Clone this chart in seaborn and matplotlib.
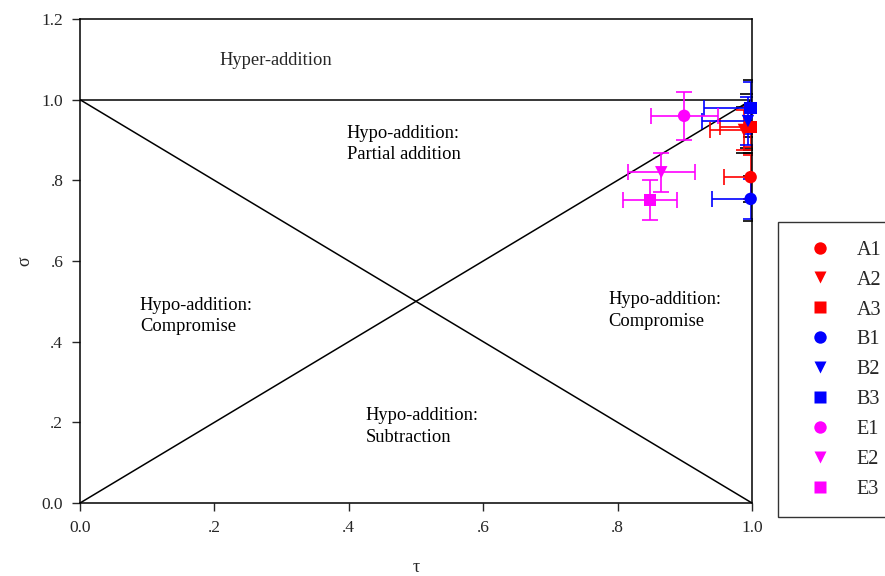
import matplotlib
matplotlib.use("Agg")
import matplotlib.pyplot as plt
import seaborn as sns
import pandas as pd

sns.set_style("ticks")
plt.rcParams["font.family"] = ["Liberation Serif", "DejaVu Serif"]

# Treatment groups and their tau / sigma estimates with error ranges
labels = ["A1", "A2", "A3", "B1", "B2", "B3", "E1", "E2", "E3"]
tau = [0.998, 0.988, 0.998, 0.998, 0.994, 0.998, 0.899, 0.865, 0.848]
sigma = [0.808, 0.925, 0.932, 0.754, 0.947, 0.979, 0.960, 0.820, 0.751]
tau_err = [0.040, 0.050, 0.045, 0.058, 0.068, 0.070, 0.050, 0.050, 0.040]
sigma_err = [0.055, 0.050, 0.050, 0.050, 0.060, 0.065, 0.060, 0.048, 0.050]

colors = ["#ff0000"] * 3 + ["#0000ff"] * 3 + ["#ff00ff"] * 3
markers = ["o", "v", "s"] * 3

x_ticks = [0.0, 0.2, 0.4, 0.6, 0.8, 1.0]
x_ticklabels = ["0.0", ".2", ".4", ".6", ".8", "1.0"]
y_ticks = [0.0, 0.2, 0.4, 0.6, 0.8, 1.0, 1.2]
y_ticklabels = ["0.0", ".2", ".4", ".6", ".8", "1.0", "1.2"]

df = pd.DataFrame({"label": labels, "tau": tau, "sigma": sigma,
                   "tau_err": tau_err, "sigma_err": sigma_err})

fig = plt.figure(figsize=(8.85, 5.76), dpi=100)
ax = fig.add_axes([0.0904, 0.1267, 0.7593, 0.8403])

# Region boundaries
ax.plot([0, 1], [1, 1], color="black", lw=1.1, zorder=1)
ax.plot([0, 1], [1, 0], color="black", lw=1.1, zorder=1)
ax.plot([0, 1], [0, 1], color="black", lw=1.1, zorder=1)

# Region labels
txt = dict(fontsize=13.3, color="black", va="top", ha="left", linespacing=1.35)
ax.text(0.292, 1.098, "Hyper-addition", fontsize=13.3, ha="center", va="center")
ax.text(0.397, 0.938, "Hypo-addition:\nPartial addition", **txt)
ax.text(0.089, 0.512, "Hypo-addition:\nCompromise", **txt)
ax.text(0.786, 0.525, "Hypo-addition:\nCompromise", **txt)
ax.text(0.425, 0.237, "Hypo-addition:\nSubtraction", **txt)

# Error bars; the A and B groups also carry black end caps on sigma
for i, row in df.iterrows():
    if colors[i] != "#ff00ff":
        ax.errorbar(row["tau"], row["sigma"], yerr=row["sigma_err"] + 0.006,
                    fmt="none", ecolor="black", elinewidth=0.0, capsize=6,
                    capthick=1.2, zorder=1.5)
    ax.errorbar(row["tau"], row["sigma"], xerr=row["tau_err"], yerr=row["sigma_err"],
                fmt="none", ecolor=colors[i], elinewidth=1.2, capsize=6,
                capthick=1.2, zorder=2)

palette = dict(zip(labels, colors))
marker_map = dict(zip(labels, markers))
sns.scatterplot(data=df, x="tau", y="sigma", hue="label", style="label",
                palette=palette, markers=marker_map, s=80, edgecolor="none",
                ax=ax, zorder=3, clip_on=False, legend=True)

ax.set_xlim(0, 1.0)
ax.set_ylim(0, 1.2)
ax.set_xticks(x_ticks)
ax.set_xticklabels(x_ticklabels)
ax.set_yticks(y_ticks)
ax.set_yticklabels(y_ticklabels)
ax.tick_params(direction="out", length=6, width=1, labelsize=12.5, pad=6)
for s in ax.spines.values():
    s.set_linewidth(1.1)
    s.set_color("black")
ax.set_xlabel("τ", fontsize=13, labelpad=17)
ax.set_ylabel("σ", fontsize=13, labelpad=6)

handles, hlabels = ax.get_legend_handles_labels()
leg = ax.legend(handles, hlabels, loc="upper left",
                bbox_to_anchor=(0.879, 0.614), bbox_transform=fig.transFigure,
                frameon=True, fancybox=False, fontsize=14.5, labelspacing=0.54,
                handletextpad=0.6, borderpad=0.9, markerscale=1.0,
                borderaxespad=0, handlelength=2.4)
leg.get_frame().set_edgecolor("black")
leg.get_frame().set_linewidth(1.0)

fig.savefig("out.png", dpi=100)
